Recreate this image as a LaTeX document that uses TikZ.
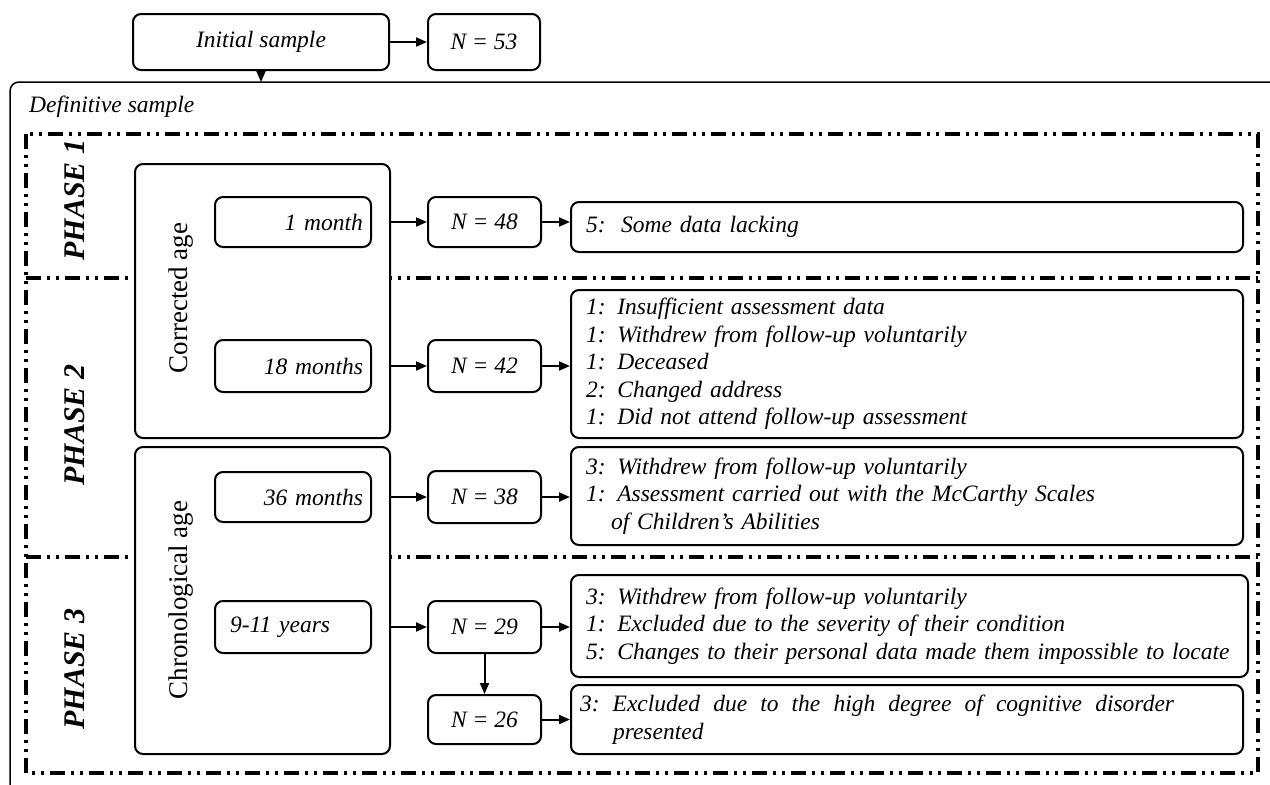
\documentclass[tikz,border=0pt]{standalone}
\usepackage{fontspec}
\setmainfont{Liberation Serif}
\usetikzlibrary{arrows.meta}
\begin{document}
\begin{tikzpicture}[x=1pt,y=-1pt,
  rbox/.style={draw, rounded corners=8pt, line width=2pt, fill=white, inner sep=0pt},
  it/.style={font=\fontsize{23.5}{27.5}\selectfont\itshape},
  arr/.style={-{Triangle[length=11pt,width=9pt]}, line width=2pt},
  phase/.style={draw, line width=3.5pt, dash pattern=on 15pt off 6pt on 3pt off 6pt on 3pt off 6pt},
  plabel/.style={rotate=90, inner sep=0pt, font=\fontsize{30}{30}\selectfont\bfseries\itshape},
  alabel/.style={rotate=90, inner sep=0pt, font=\fontsize{27}{27}\selectfont},
  agebox/.style={rbox, it, minimum width=156pt, text width=140pt},
  nbox/.style={rbox, it, minimum width=113pt},
  tbox/.style={rbox, it, anchor=west, inner xsep=15pt, align=left}]
\useasboundingbox (0,0) rectangle (1270,785);
% outer frame of the definitive sample
\draw[line width=1.5pt, rounded corners=9pt] (10,785) -- (10,82) -- (1270,82);
\coordinate (deftop) at (261,82);
\node[it, anchor=west, inner sep=0pt] (def) at (29,107) {Definitive sample};
% phases
\draw[phase] (26,134) rectangle (1258,773);
\draw[phase] (26,278) -- (1258,278);
\draw[phase] (26,557) -- (1258,557);
\node[plabel] (p1) at (75,200) {PHASE 1};
\node[plabel] (p2) at (75,425) {PHASE 2};
\node[plabel] (p3) at (75,669) {PHASE 3};
% top
\node[rbox, it, minimum width=256pt, minimum height=56pt] (init) at (261,42) {Initial sample};
\node[rbox, it, minimum width=112pt, minimum height=56pt] (n53) at (484,42) {N = 53};
% age boxes
\node[rbox, minimum width=255pt, minimum height=274pt] (corr) at (262.5,301) {};
\node[rbox, minimum width=255pt, minimum height=307pt] (chron) at (262.5,600.5) {};
\node[alabel] (lcorr) at (181,298) {Corrected age};
\node[alabel] (lchron) at (181,600) {Chronological age};
\node[agebox, minimum height=50pt, align=right] (m1) at (293,222) {1 month\hspace*{13pt}};
\node[agebox, minimum height=52pt, align=right] (m18) at (293,366) {18 months};
\node[agebox, minimum height=50pt, align=right] (m36) at (293,497) {36 months};
\node[agebox, minimum height=52pt, align=left] (y911) at (293,627) {\hspace*{7pt}9-11 years};
% N boxes
\node[nbox, minimum height=50pt] (n48) at (484.5,222) {N = 48};
\node[nbox, minimum height=52pt] (n42) at (484.5,366) {N = 42};
\node[nbox, minimum height=52pt] (n38) at (484.5,497) {N = 38};
\node[nbox, minimum height=52pt] (n29) at (484.5,627) {N = 29};
\node[nbox, minimum height=49pt] (n26) at (484.5,719.5) {N = 26};
% text boxes
\node[tbox, minimum height=50pt, text width=642pt] (t48) at (570,227) {5:\ \ Some data lacking};
\node[tbox, minimum height=148pt, text width=642pt] (t42) at (570,364) {1: Insufficient assessment data\\1: Withdrew from follow-up voluntarily\\1: Deceased\\2: Changed address\\1: Did not attend follow-up assessment};
\node[tbox, minimum height=98pt, text width=642pt] (t38) at (570,496) {3: Withdrew from follow-up voluntarily\\1: Assessment carried out with the McCarthy Scales\\\hspace*{25pt}of Children’s Abilities};
\node[tbox, minimum height=102pt, text width=647pt] (t29) at (570,626) {3: Withdrew from follow-up voluntarily\\1: Excluded due to the severity of their condition\\5: Changes to their personal data made them impossible to locate};
\node[tbox, minimum height=69pt, inner xsep=9pt, text width=654pt] (t26) at (570,719.5) {\makebox[594pt][l]{3:\hfill Excluded\hfill due\hfill to\hfill the\hfill high\hfill degree\hfill of\hfill cognitive\hfill disorder}\\\hspace*{33pt}presented};
% connectors
\draw[arr] (init.east) -- (n53.west);
\draw[arr] (init.south) -- (deftop);
\draw[arr] (corr.east |- n48.west) -- (n48.west);
\draw[arr] (corr.east |- n42.west) -- (n42.west);
\draw[arr] (chron.east |- n38.west) -- (n38.west);
\draw[arr] (chron.east |- n29.west) -- (n29.west);
\draw[arr] (n48.east) -- (n48.east -| t48.west);
\draw[arr] (n42.east) -- (n42.east -| t42.west);
\draw[arr] (n38.east) -- (n38.east -| t38.west);
\draw[arr] (n29.east) -- (n29.east -| t29.west);
\draw[arr] (n26.east) -- (n26.east -| t26.west);
\draw[arr] (n29.south) -- (n26.north);
\end{tikzpicture}
\end{document}
